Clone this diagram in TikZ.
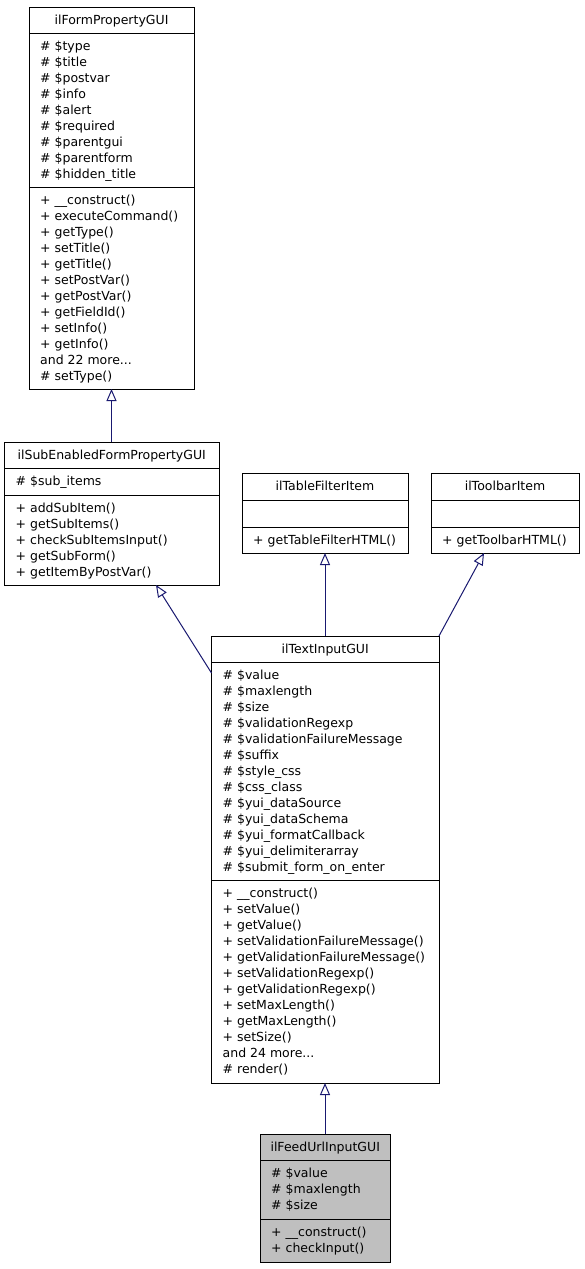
\documentclass[tikz,border=0pt]{standalone}
\usepackage{fontspec}
\setmainfont{DejaVu Sans}
\usetikzlibrary{arrows.meta}
\definecolor{edgecol}{HTML}{191970}
\definecolor{focusfill}{HTML}{BFBFBF}
\newcommand\umlfnt{\fontsize{12.5}{16}\selectfont}
\newcommand\tdots{...}
\newcommand\umllines[4]{\foreach \t [count=\i from 0] in {#4} {\node[lbl] (#1\i) at (#2, #3+16*\i) {\t};}}
\tikzset{
  box/.style={draw=black, line width=1pt, anchor=north west, inner sep=0pt, outer sep=0pt},
  lbl/.style={anchor=base west, inner sep=0pt, font=\umlfnt},
  ttl/.style={anchor=base, inner sep=0pt, font=\umlfnt},
  sepline/.style={draw=black, line width=1pt},
  inh/.style={draw=edgecol, line width=1pt, -{Triangle[open, length=12pt, width=10pt]}},
}
\begin{document}
\begin{tikzpicture}[x=1pt, y=-1pt]
\useasboundingbox[fill=white] (0,0) rectangle (584,1269);

% ilFormPropertyGUI
\node[box, fill=white, minimum width=165.5pt, minimum height=382pt] (fpg) at (29,7) {};
\node[ttl] (fpgt) at (111.5,24) {ilFormPropertyGUI};
\draw[sepline] (29,33) -- (194.5,33);
\umllines{fpga}{40}{50}{\# \$type, \# \$title, \# \$postvar, \# \$info, \# \$alert, \# \$required, \# \$parentgui, \# \$parentform, \# \$hidden\_title}
\draw[sepline] (29,187) -- (194.5,187);
\umllines{fpgm}{40}{204}{+ \_\_construct(), + executeCommand(), + getType(), + setTitle(), + getTitle(), + setPostVar(), + getPostVar(), + getFieldId(), + setInfo(), + getInfo(), and 22 more\tdots, \# setType()}

% ilSubEnabledFormPropertyGUI
\node[box, fill=white, minimum width=214.5pt, minimum height=143pt] (sub) at (4.5,442) {};
\node[ttl] (subt) at (111.75,459) {ilSubEnabledFormPropertyGUI};
\draw[sepline] (4.5,468) -- (219,468);
\umllines{suba}{15.5}{485}{\# \$sub\_items}
\draw[sepline] (4.5,495) -- (219,495);
\umllines{subm}{15.5}{512}{+ addSubItem(), + getSubItems(), + checkSubItemsInput(), + getSubForm(), + getItemByPostVar()}

% ilTableFilterItem
\node[box, fill=white, minimum width=166pt, minimum height=80pt] (tfi) at (242,473) {};
\node[ttl] (tfit) at (325,490) {ilTableFilterItem};
\draw[sepline] (242,500) -- (408,500);
\draw[sepline] (242,527) -- (408,527);
\umllines{tfim}{253}{544}{+ getTableFilterHTML()}

% ilToolbarItem
\node[box, fill=white, minimum width=148pt, minimum height=80pt] (tbi) at (431,473) {};
\node[ttl] (tbit) at (505,490) {ilToolbarItem};
\draw[sepline] (431,500) -- (579,500);
\draw[sepline] (431,527) -- (579,527);
\umllines{tbim}{442}{544}{+ getToolbarHTML()}

% ilTextInputGUI
\node[box, fill=white, minimum width=227.5pt, minimum height=447pt] (tig) at (211.5,636) {};
\node[ttl] (tigt) at (325.25,653) {ilTextInputGUI};
\draw[sepline] (211.5,662.5) -- (439,662.5);
\umllines{tiga}{222.5}{679}{\# \$value, \# \$maxlength, \# \$size, \# \$validationRegexp, \# \$validationFailureMessage, \# \$suffix, \# \$style\_css, \# \$css\_class, \# \$yui\_dataSource, \# \$yui\_dataSchema, \# \$yui\_formatCallback, \# \$yui\_delimiterarray, \# \$submit\_form\_on\_enter}
\draw[sepline] (211.5,880.5) -- (439,880.5);
\umllines{tigm}{222.5}{897.5}{+ \_\_construct(), + setValue(), + getValue(), + setValidationFailureMessage(), + getValidationFailureMessage(), + setValidationRegexp(), + getValidationRegexp(), + setMaxLength(), + getMaxLength(), + setSize(), and 24 more\tdots, \# render()}

% ilFeedUrlInputGUI
\node[box, fill=focusfill, minimum width=130.5pt, minimum height=128pt] (feed) at (260,1134) {};
\node[ttl] (feedt) at (325.25,1151) {ilFeedUrlInputGUI};
\draw[sepline] (260,1160) -- (390.5,1160);
\umllines{feeda}{271}{1177}{\# \$value, \# \$maxlength, \# \$size}
\draw[sepline] (260,1219.5) -- (390.5,1219.5);
\umllines{feedm}{271}{1236}{+ \_\_construct(), + checkInput()}

% inheritance
\draw[inh] ([xshift=107pt]sub.north west) -- ([xshift=82.5pt]fpg.south west);
\draw[inh] ([yshift=-37pt]tig.north west) -- ([xshift=151.5pt]sub.south west);
\draw[inh] ([xshift=113.5pt]tig.north west) -- ([xshift=83pt]tfi.south west);
\draw[inh] (tig.north east) -- ([xshift=53pt]tbi.south west);
\draw[inh] ([xshift=65pt]feed.north west) -- ([xshift=113.5pt]tig.south west);
\end{tikzpicture}
\end{document}
